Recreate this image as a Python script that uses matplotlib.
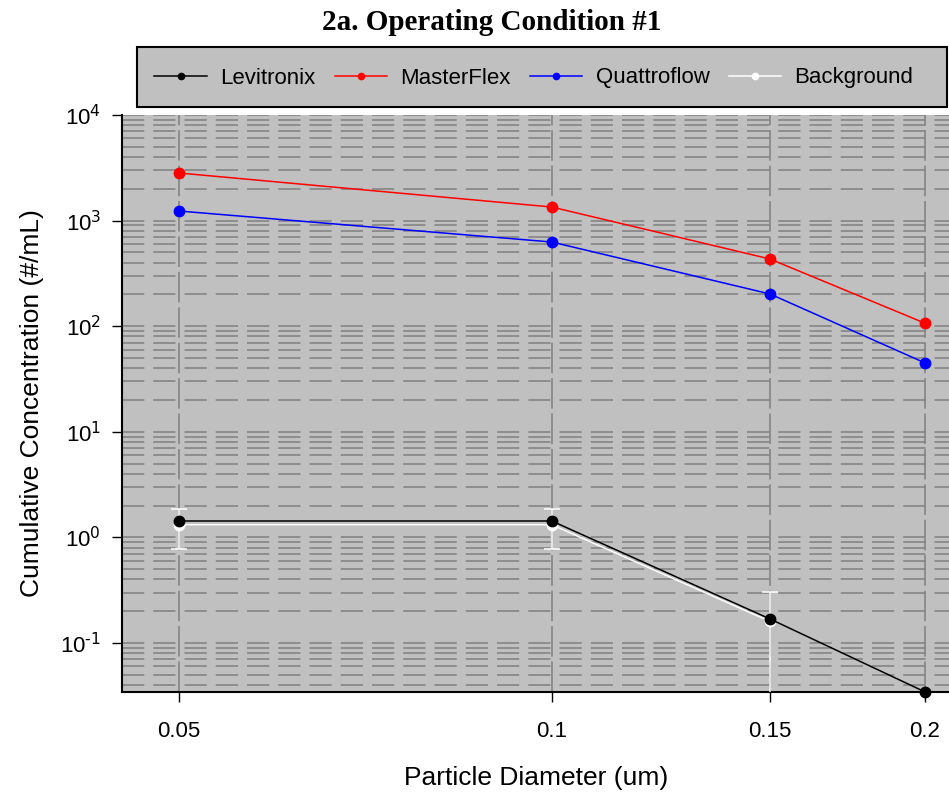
import numpy as np
import matplotlib
matplotlib.use("Agg")
import matplotlib.pyplot as plt
from matplotlib.patches import Rectangle
from matplotlib.ticker import LogLocator, FixedLocator, FixedFormatter, FuncFormatter, NullLocator

plt.rcParams['font.family'] = ['Liberation Sans', 'DejaVu Sans']
plt.rcParams['mathtext.default'] = 'regular'
plt.rcParams['lines.scale_dashes'] = False

# ---- data ----
diameters = [0.05, 0.1, 0.15, 0.2]
x_labels = ["0.05", "0.1", "0.15", "0.2"]
levitronix = [1.43, 1.43, 0.169, 0.0345]
masterflex = [2825, 1345, 433, 107]
quattroflow = [1233, 627, 202, 45]
background = [1.32, 1.32, 0.16, np.nan]
background_err = [0.54, 0.54, 0.146, 0.0]

W, H = 949, 795
fig = plt.figure(figsize=(W / 100, H / 100), dpi=100)
ax_left, ax_right, ax_top, ax_bottom = 122, 951, 115, 692
ax = fig.add_axes([ax_left / W, 1 - ax_bottom / H, (ax_right - ax_left) / W, (ax_bottom - ax_top) / H])
ax.set_facecolor('#c0c0c0')
ax.set_xscale('log')
ax.set_yscale('log')
ax.set_xlim(0.04499, 0.21)
ax.set_ylim(10 ** -1.464, 1e4)


def ylab(v, pos):
    e = int(round(np.log10(v)))
    return r'$10^{\mathrm{%s}}$' % (str(e).replace('-', '‐'))


ax.yaxis.set_major_locator(LogLocator(base=10, numticks=20))
ax.yaxis.set_minor_locator(LogLocator(base=10, subs=np.arange(2, 10), numticks=20))
ax.yaxis.set_major_formatter(FuncFormatter(ylab))
ax.xaxis.set_major_locator(FixedLocator(diameters))
ax.xaxis.set_major_formatter(FixedFormatter(x_labels))
ax.xaxis.set_minor_locator(NullLocator())
ax.grid(True, which='both', axis='y', color='#808080', lw=1.1, linestyle=(0, (16, 6.5)))
ax.grid(True, which='major', axis='x', color='#808080', lw=1.1, linestyle=(0, (22, 3.5)))
ax.set_axisbelow(True)

lw = 1.1
ms = 7.5
ax.errorbar(diameters, background, yerr=background_err, color='white', lw=lw,
            marker='o', ms=ms, capsize=6, capthick=1.1, ecolor='white', elinewidth=1.1,
            label='Background', zorder=3)
l1, = ax.plot(diameters, levitronix, color='black', lw=lw, marker='o', ms=ms, label='Levitronix', zorder=4, clip_on=False)
l2, = ax.plot(diameters, masterflex, color='red', lw=lw, marker='o', ms=ms, label='MasterFlex', zorder=4)
l3, = ax.plot(diameters, quattroflow, color='blue', lw=lw, marker='o', ms=ms, label='Quattroflow', zorder=4)
l4, = ax.plot([], [], color='white', lw=lw, marker='o', ms=ms, label='Background')

for s in ['top', 'right']:
    ax.spines[s].set_visible(False)
for s in ['left', 'bottom']:
    ax.spines[s].set_linewidth(1.5)
    ax.spines[s].set_zorder(2.5)

ax.tick_params(axis='both', which='major', direction='out', length=7, width=1.0, labelsize=16)
ax.tick_params(axis='y', which='minor', length=0)
ax.tick_params(axis='x', which='major', pad=14)
ax.tick_params(axis='y', which='major', pad=8)

ax.set_xlabel('Particle Diameter (um)', fontsize=19, labelpad=17)
ax.set_ylabel('Cumulative Concentration (#/mL)', fontsize=19, labelpad=12)

fig.text(492 / W, 1 - 22 / H, '2a. Operating Condition #1', ha='center', va='center',
         fontsize=21, fontweight='bold', family=['Liberation Serif', 'DejaVu Serif'])

# legend frame drawn as a figure rectangle, legend content placed inside
fig.patches.append(Rectangle((137 / W, 1 - 107 / H), (947 - 137) / W, 60 / H,
                             transform=fig.transFigure, facecolor='#c0c0c0',
                             edgecolor='black', lw=1.5, zorder=0))
leg = fig.legend([l1, l2, l3, l4], ['Levitronix', 'MasterFlex', 'Quattroflow', 'Background'],
                 loc='center left', bbox_to_anchor=(150 / W, 1 - 78 / H),
                 ncol=4, fontsize=16, frameon=False,
                 handlelength=2.35, handletextpad=0.62, columnspacing=0.85,
                 markerscale=0.6, borderaxespad=0, borderpad=0.2)

fig.savefig('out.png', dpi=100)
